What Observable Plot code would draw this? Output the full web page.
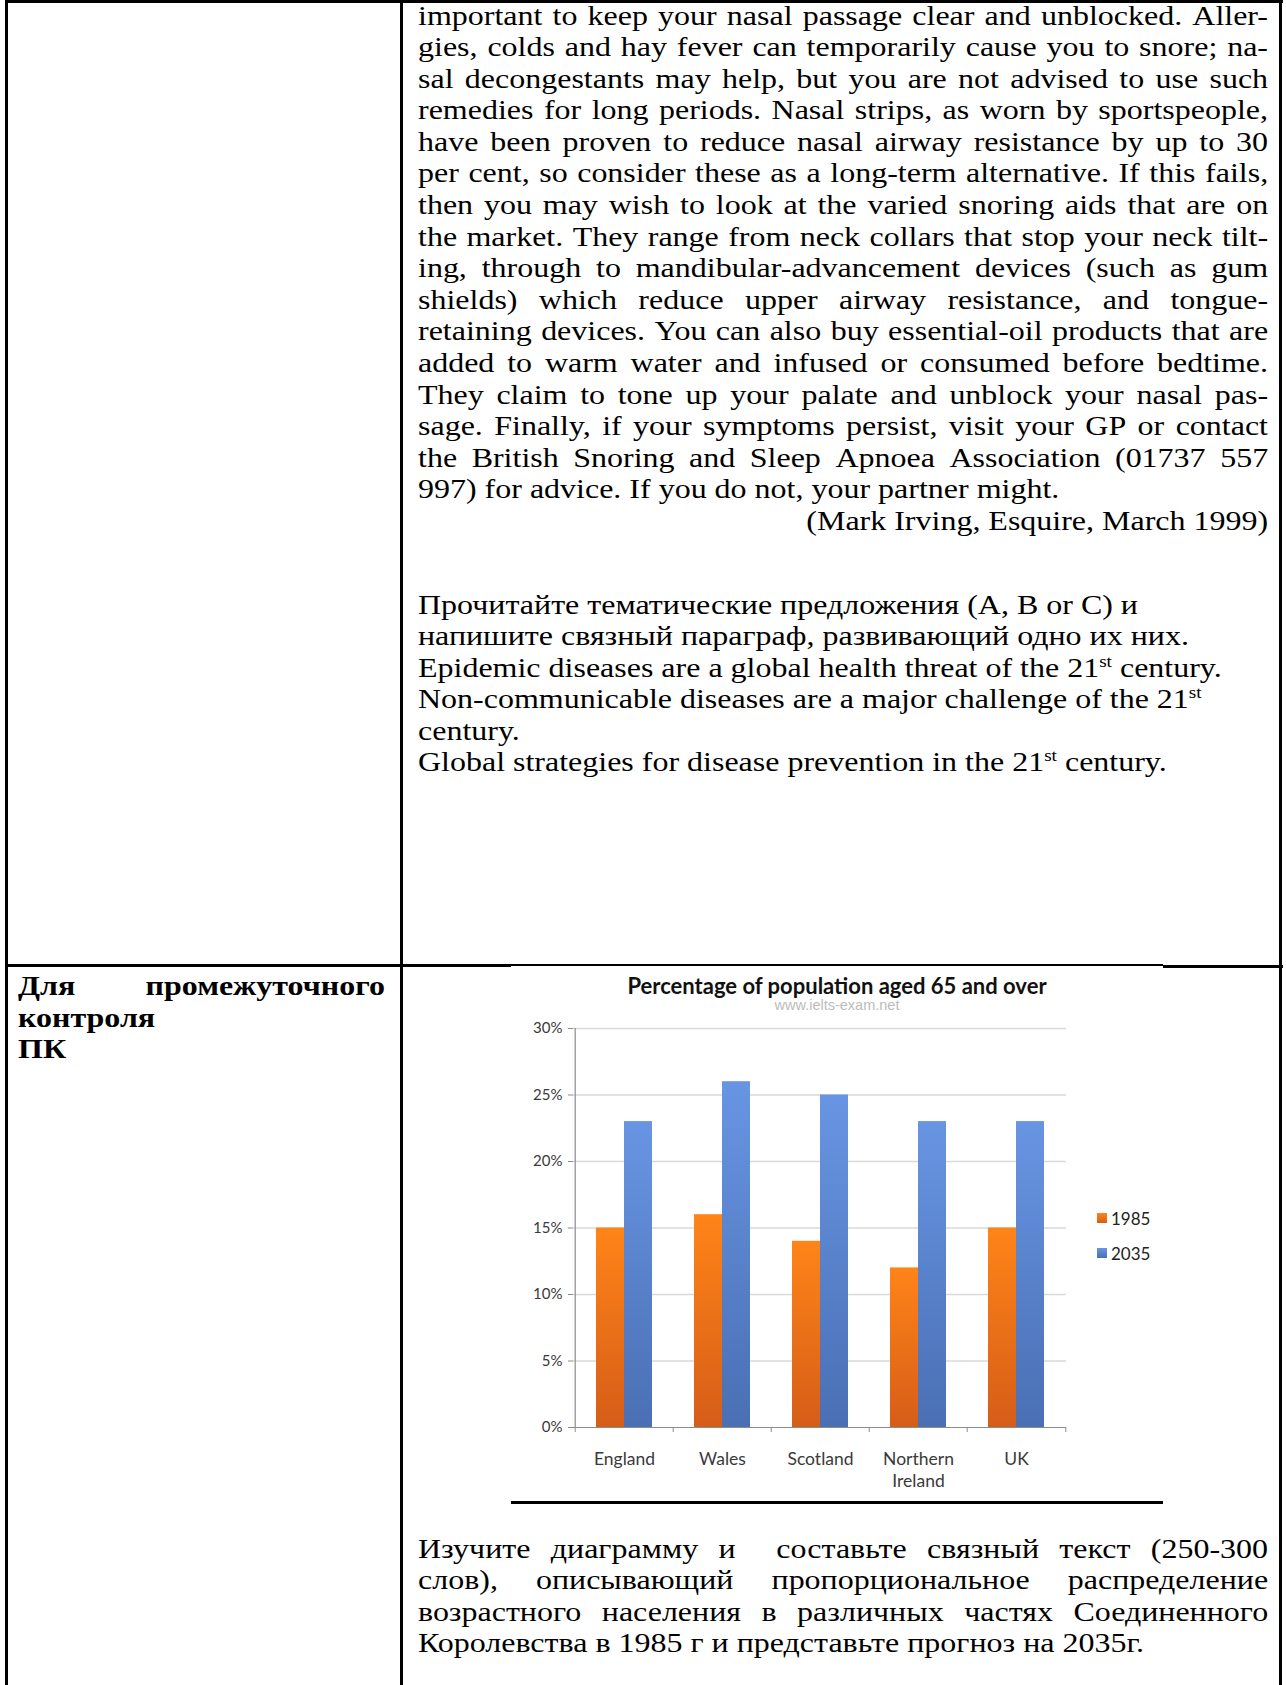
<!DOCTYPE html>
<html>
<head>
<meta charset="utf-8">
<script src="https://cdn.jsdelivr.net/npm/d3@7"></script>
<script src="https://cdn.jsdelivr.net/npm/@observablehq/plot@0.6"></script>
<style>
html, body { margin: 0; padding: 0; background: #fff; }
#page { position: relative; width: 1286px; height: 1685px; overflow: hidden; background: #fff; }
.b { position: absolute; background: #000; }
.txt { position: absolute; font-family: "Liberation Serif", "Times New Roman", serif; font-size: 27.5px; line-height: 31.6px; color: #000; transform: scaleX(1.163); transform-origin: 0 0; }
.ln { height: 31.6px; white-space: nowrap; }
.j { display: flex; justify-content: space-between; }
sup { font-size: 0.6em; line-height: 0; vertical-align: 0.6em; }
#title { position: absolute; left: 511px; width: 652px; top: 973px; text-align: center; font-family: Lato, sans-serif; font-weight: bold; font-size: 22px; line-height: 26px; color: #111; }
#subtitle { position: absolute; left: 511px; width: 652px; top: 996px; text-align: center; font-family: "Liberation Sans", Arial, sans-serif; font-size: 14.5px; line-height: 18px; color: #bcbcbc; }
#chart { position: absolute; left: 511px; top: 1016px; }
.leg { position: absolute; left: 1097px; height: 20px; display: flex; align-items: center; font-family: Lato, sans-serif; font-size: 17px; color: #222; }
.sw { width: 10px; height: 10px; margin-right: 4px; }
</style>
</head>
<body>
<div id="page">
  <div class="b" style="left:5px;top:0px;width:1278px;height:2.5px"></div>
  <div class="b" style="left:5px;top:0px;width:2.5px;height:1690px"></div>
  <div class="b" style="left:400px;top:0px;width:2.5px;height:1690px"></div>
  <div class="b" style="left:1279px;top:0px;width:2.5px;height:1690px"></div>
  <div class="b" style="left:5px;top:964px;width:506px;height:2.5px"></div>
  <div class="b" style="left:511px;top:964px;width:652px;height:1.5px"></div>
  <div class="b" style="left:1163px;top:965px;width:120px;height:2.5px"></div>
  <div class="b" style="left:511px;top:1501px;width:652px;height:2.5px"></div>

  <div id="blockA" class="txt" style="left:418px;top:-0.5px;width:731px"></div>
  <div id="blockB" class="txt" style="left:418px;top:588.5px;width:731px"></div>
  <div id="blockC" class="txt" style="left:18px;top:970px;width:315.5px;font-weight:bold"></div>
  <div id="blockD" class="txt" style="left:418px;top:1532.5px;width:731px"></div>

  <div id="title"></div>
  <div id="subtitle"></div>
  <div id="chart"></div>
  <div id="legend"></div>
</div>
<script>
// ---------- chart data ----------
const categories = ["England", "Wales", "Scotland", "Northern Ireland", "UK"];
const categoryLabels = ["England", "Wales", "Scotland", "Northern\nIreland", "UK"];
const years = ["1985", "2035"];
const values1985 = [15, 16, 14, 12, 15];
const values2035 = [23, 26, 25, 23, 23];
const yTicks = [0, 5, 10, 15, 20, 25, 30];
const yTickLabels = ["0%", "5%", "10%", "15%", "20%", "25%", "30%"];
const chartTitle = "Percentage of population aged 65 and over";
const chartSubtitle = "www.ielts-exam.net";
const gradientTop = ["#ff8418", "#6895e3"];
const gradientBottom = ["#d65d18", "#4a6fb4"];

// ---------- document text ----------
const linesA = [
  ["important to keep your nasal passage clear and unblocked. Aller-", "j"],
  ["gies, colds and hay fever can temporarily cause you to snore; na-", "j"],
  ["sal decongestants may help, but you are not advised to use such", "j"],
  ["remedies for long periods. Nasal strips, as worn by sportspeople,", "j"],
  ["have been proven to reduce nasal airway resistance by up to 30", "j"],
  ["per cent, so consider these as a long-term alternative. If this fails,", "j"],
  ["then you may wish to look at the varied snoring aids that are on", "j"],
  ["the market. They range from neck collars that stop your neck tilt-", "j"],
  ["ing, through to mandibular-advancement devices (such as gum", "j"],
  ["shields) which reduce upper airway resistance, and tongue-", "j"],
  ["retaining devices. You can also buy essential-oil products that are", "j"],
  ["added to warm water and infused or consumed before bedtime.", "j"],
  ["They claim to tone up your palate and unblock your nasal pas-", "j"],
  ["sage. Finally, if your symptoms persist, visit your GP or contact", "j"],
  ["the British Snoring and Sleep Apnoea Association (01737 557", "j"],
  ["997) for advice. If you do not, your partner might.", "l"],
  ["(Mark Irving, Esquire, March 1999)", "r"]
];
const linesB = [
  ["Прочитайте тематические предложения (A, B or C) и", "l"],
  ["напишите связный параграф, развивающий одно их них.", "l"],
  ["Epidemic diseases are a global health threat of the 21^st century.", "l"],
  ["Non-communicable diseases are a major challenge of the 21^st", "l"],
  ["century.", "l"],
  ["Global strategies for disease prevention in the 21^st century.", "l"]
];
const linesC = [
  ["Для промежуточного", "j"],
  ["контроля", "l"],
  ["ПК", "l"]
];
const linesD = [
  ["Изучите диаграмму и  составьте связный текст (250-300", "j"],
  ["слов), описывающий пропорциональное распределение", "j"],
  ["возрастного населения в различных частях Соединенного", "j"],
  ["Королевства в 1985 г и представьте прогноз на 2035г.", "l"]
];

function toHtml(s) { return s.replace(/\^(\w+)/g, "<sup>$1</sup>"); }
function fillBlock(id, lines) {
  const host = document.getElementById(id);
  for (const [text, mode] of lines) {
    const d = document.createElement("div");
    d.className = "ln";
    if (mode === "j") {
      d.classList.add("j");
      for (const w of text.split(" ")) {
        const s = document.createElement("span");
        s.innerHTML = toHtml(w);
        d.appendChild(s);
      }
    } else {
      d.innerHTML = toHtml(text);
      if (mode === "r") d.style.textAlign = "right";
    }
    host.appendChild(d);
  }
}
fillBlock("blockA", linesA);
fillBlock("blockB", linesB);
fillBlock("blockC", linesC);
fillBlock("blockD", linesD);

// ---------- chart ----------
document.getElementById("title").textContent = chartTitle;
document.getElementById("subtitle").textContent = chartSubtitle;

const W = 652, H = 484, mL = 62, mR = 97, mT = 12, mB = 73;
const pIn = 0.432;
const step = (W - mL - mR) / categories.length;
const bw = step * (1 - pIn);
const table = categories.map((c, i) => ({category: c, label: categoryLabels[i], v1985: values1985[i], v2035: values2035[i]}));
const axisColor = "#8c8c8c";

const chart = Plot.plot({
  width: W, height: H,
  marginLeft: mL, marginRight: mR, marginTop: mT, marginBottom: mB,
  style: {background: "transparent", fontFamily: "Lato, sans-serif", fontSize: "14px", overflow: "visible"},
  x: {domain: categories, paddingInner: pIn, paddingOuter: pIn / 2, axis: null},
  y: {domain: [0, 30]},
  marks: [
    Plot.gridY(yTicks.slice(1), {stroke: "#d9d9d9", strokeOpacity: 1, strokeWidth: 1.5}),
    Plot.barY(table, {x: "category", y: "v1985", fill: "url(#grad-1985)", insetRight: bw / 2}),
    Plot.barY(table, {x: "category", y: "v2035", fill: "url(#grad-2035)", insetLeft: bw / 2}),
    Plot.ruleY([0], {stroke: axisColor, strokeWidth: 1.2}),
    Plot.ruleX(categories.slice(0, 1), {x: d => d, y1: 0, y2: 30, dx: -step / 2, stroke: axisColor, strokeWidth: 1.2}),
    Plot.ruleX(categories, {x: d => d, y1: 0, y2: 0, insetTop: 5, dx: -step / 2, stroke: axisColor}),
    Plot.ruleX(categories.slice(-1), {x: d => d, y1: 0, y2: 0, insetTop: 5, dx: step / 2, stroke: axisColor}),
    Plot.axisY(yTicks, {tickSize: 5, tickPadding: 6, tickFormat: d => yTickLabels[yTicks.indexOf(d)], stroke: axisColor, fill: "#3a3a3a", fontSize: 15, label: null}),
    Plot.text(table, {x: "category", text: "label", frameAnchor: "bottom", dy: 21, lineAnchor: "top", lineHeight: 1.29, fill: "#3a3a3a", fontSize: 17.5})
  ]
});

const defs = d3.select(chart).insert("defs", ":first-child");
years.forEach((yr, i) => {
  const g = defs.append("linearGradient").attr("id", "grad-" + yr)
    .attr("x1", 0).attr("y1", 0).attr("x2", 0).attr("y2", 1);
  g.append("stop").attr("offset", "0%").attr("stop-color", gradientTop[i]);
  g.append("stop").attr("offset", "100%").attr("stop-color", gradientBottom[i]);
});
document.getElementById("chart").appendChild(chart);

// legend
const legendHost = document.getElementById("legend");
const legendTops = [1208, 1243];
years.forEach((yr, i) => {
  const row = document.createElement("div");
  row.className = "leg";
  row.style.top = legendTops[i] + "px";
  const sw = document.createElement("div");
  sw.className = "sw";
  sw.style.background = `linear-gradient(${gradientTop[i]}, ${gradientBottom[i]})`;
  const t = document.createElement("span");
  t.textContent = yr;
  row.appendChild(sw); row.appendChild(t);
  legendHost.appendChild(row);
});
</script>
</body>
</html>
